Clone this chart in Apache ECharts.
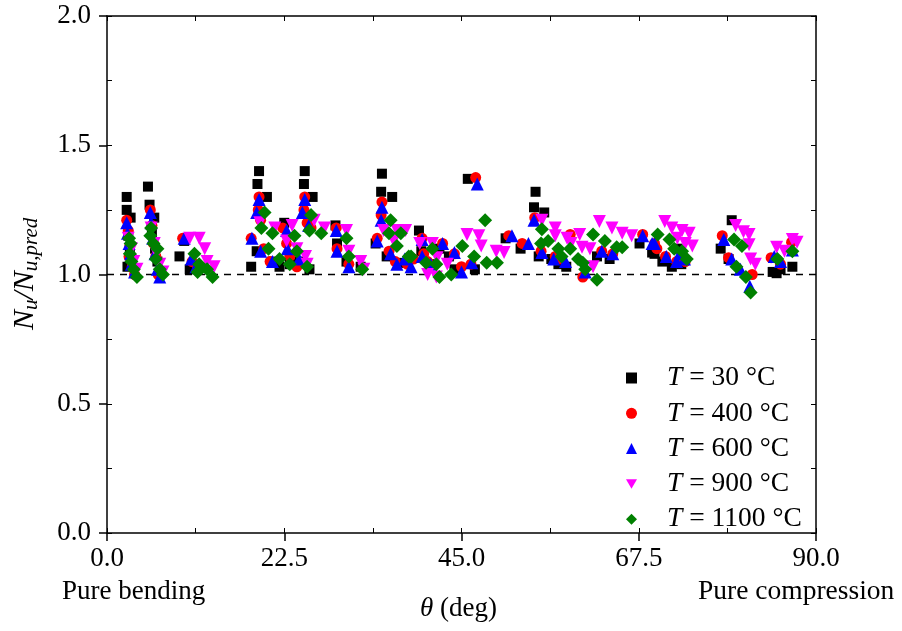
<!DOCTYPE html>
<html>
<head>
<meta charset="utf-8">
<script src="https://cdn.jsdelivr.net/npm/echarts@6/dist/echarts.min.js"></script>
<style>html,body{margin:0;padding:0;background:#fff}#c{width:902px;height:631px}</style>
</head>
<body>
<div id="c"></div>
<script>
// tick labels
const xTicks = [0, 22.5, 45, 67.5, 90];
const yTicks = [0, 0.5, 1.0, 1.5, 2.0];
const seriesNames = ['30', '400', '600', '900', '1100'];

// [theta (deg), Nu/Nu,pred]
const t30 = [
[2.5,1.30],[2.5,1.25],[3.0,1.22],[2.7,1.15],[2.9,1.10],[3.1,1.06],[2.6,1.03],[5.2,1.34],[5.4,1.27],[6.0,1.22],[5.7,1.16],[6.1,1.10],[6.4,1.05],
[9.2,1.07],[9.8,1.13],[10.5,1.02],
[18.3,1.03],[19.0,1.09],[19.3,1.40],[19.1,1.35],[20.3,1.30],[21.0,1.05],[21.9,1.03],[22.5,1.20],[23.2,1.04],[25.1,1.40],[25.0,1.35],[26.1,1.30],[24.4,1.05],[25.7,1.02],
[29.0,1.19],[29.2,1.12],[30.4,1.05],[32.2,1.03],
[34.9,1.39],[34.8,1.32],[36.2,1.30],[34.1,1.12],[35.5,1.07],
[39.6,1.17],[37.4,1.045],[39.9,1.09],[40.9,1.04],[43.4,1.07],[44.1,1.02],[45.8,1.37],[46.7,1.02],[42.2,1.10],
[50.6,1.14],[52.5,1.10],[54.4,1.32],[54.2,1.26],[55.5,1.24],[54.8,1.07],[56.4,1.06],[57.3,1.04],[58.3,1.03],[62.2,1.07],[63.8,1.06],[67.6,1.12],[69.5,1.08],
[69.2,1.085],[70.5,1.05],[71.7,1.03],[72.9,1.04],[72.4,1.10],
[79.3,1.21],[77.9,1.10],[78.9,1.06],
[84.5,1.01],[85.0,1.005],[87.0,1.03],[85.5,1.02]
];
const t400 = [
[2.5,1.21],[2.7,1.17],[2.9,1.11],[2.8,1.07],[3.2,1.03],[3.5,1.00],[5.5,1.25],[5.7,1.19],[5.9,1.12],[6.2,1.07],[6.5,1.00],
[9.6,1.14],[10.8,1.05],[11.5,1.03],
[18.3,1.14],[19.3,1.30],[19.2,1.25],[19.5,1.21],[19.9,1.10],[20.7,1.05],[22.3,1.18],[22.8,1.12],[23.2,1.07],[24.1,1.03],[25.1,1.30],[25.0,1.25],[25.4,1.20],[25.9,1.18],
[29.1,1.18],[29.2,1.10],[30.7,1.04],
[34.9,1.28],[34.8,1.23],[34.3,1.14],[35.8,1.09],[36.6,1.05],
[40.0,1.14],[40.2,1.08],[40.7,1.05],[42.6,1.12],[44.1,1.08],[45.0,1.03],[46.8,1.375],[46.2,1.04],[38.1,1.04],[38.9,1.06],
[51.0,1.15],[52.7,1.12],[54.3,1.22],[55.1,1.09],[56.9,1.07],[58.8,1.155],[60.4,0.99],[57.7,1.06],[62.8,1.09],[64.2,1.08],[68.0,1.155],[69.5,1.12],
[69.8,1.10],[70.9,1.07],[72.3,1.05],[73.4,1.05],
[78.1,1.15],[78.9,1.065],[81.9,1.00],
[84.3,1.065],[86.9,1.125],[85.5,1.04]
];
const t600 = [
[2.5,1.20],[2.6,1.16],[2.8,1.12],[3.0,1.08],[3.1,1.04],[3.5,1.01],[5.5,1.24],[5.6,1.20],[5.8,1.14],[6.1,1.08],[6.4,1.02],[6.7,0.99],
[9.8,1.14],[10.7,1.06],[11.3,1.03],
[18.4,1.14],[19.3,1.29],[19.0,1.24],[19.5,1.09],[21.0,1.05],[22.8,1.17],[22.9,1.10],[24.4,1.06],[25.1,1.29],[24.8,1.24],[25.6,1.19],
[29.1,1.17],[29.2,1.09],[30.7,1.03],
[34.9,1.26],[34.8,1.21],[34.3,1.13],[36.0,1.08],[36.8,1.04],
[40.0,1.135],[40.0,1.07],[41.1,1.04],[42.6,1.12],[44.1,1.085],[45.0,1.01],[46.3,1.045],[47.0,1.35],[38.6,1.03],[37.8,1.06],
[51.4,1.15],[53.5,1.12],[54.2,1.21],[55.2,1.085],[56.7,1.06],[58.2,1.05],[60.7,1.01],[62.8,1.09],[64.2,1.08],[68.0,1.15],[69.5,1.12],
[69.2,1.12],[71.0,1.07],[72.3,1.05],[73.3,1.06],[72.7,1.08],
[78.3,1.135],[79.3,1.06],[81.6,0.955],[80.4,1.02],
[84.7,1.07],[87.0,1.095],[85.5,1.05]
];
const t900 = [
[2.7,1.14],[3.1,1.10],[3.4,1.05],[3.8,1.02],[5.6,1.18],[6.0,1.12],[6.3,1.08],[6.7,1.04],[7.1,1.01],
[10.5,1.14],[11.7,1.14],[12.4,1.10],[12.7,1.05],[13.6,1.03],
[19.4,1.20],[21.3,1.18],[23.5,1.19],[22.8,1.13],[25.2,1.07],[25.4,1.04],[26.3,1.21],[27.6,1.18],[24.1,1.10],
[30.4,1.17],[30.7,1.09],[32.2,1.05],[32.6,1.02],
[35.1,1.17],[36.8,1.17],[37.9,1.17],[36.4,1.13],
[39.7,1.12],[41.3,1.12],[41.9,1.065],[43.2,1.04],[41.8,0.99],[40.7,1.00],[45.7,1.155],[47.2,1.15],[47.5,1.11],[49.4,1.09],[50.4,1.085],
[55.2,1.21],[56.9,1.18],[56.9,1.15],[60.0,1.155],[60.3,1.105],[61.3,1.10],[61.7,1.03],[62.5,1.205],[64.1,1.18],[65.4,1.16],[66.6,1.15],[58.9,1.12],[58.4,1.14],
[70.8,1.205],[71.7,1.18],[73.0,1.17],[73.9,1.16],[74.3,1.11],[72.4,1.14],[73.4,1.12],
[79.8,1.19],[80.8,1.165],[81.5,1.155],[81.5,1.115],[81.7,1.06],[82.3,1.04],
[85.0,1.105],[87.0,1.135],[87.6,1.125],[86.0,1.09]
];
const t1100 = [
[2.8,1.14],[3.0,1.12],[2.9,1.08],[3.1,1.05],[3.4,1.02],[3.8,0.99],[5.6,1.18],[5.5,1.15],[5.9,1.12],[6.4,1.10],[6.2,1.06],[6.7,1.02],[7.1,1.00],
[11.1,1.08],[11.7,1.04],[11.5,1.01],[12.7,1.02],[13.4,0.99],
[20.0,1.24],[19.6,1.18],[21.0,1.16],[20.5,1.10],[21.9,1.06],[23.2,1.04],[23.8,1.15],[24.1,1.09],[25.4,1.03],[25.9,1.23],[25.7,1.17],[27.2,1.16],
[30.4,1.14],[30.7,1.07],[32.4,1.02],
[36.0,1.21],[35.8,1.16],[37.3,1.16],[36.8,1.11],[38.3,1.07],
[38.6,1.07],[40.5,1.045],[41.3,1.10],[41.8,1.04],[42.2,0.99],[43.7,1.00],[45.1,1.11],[46.6,1.07],[48.2,1.045],[49.5,1.045],[48.0,1.21],
[55.2,1.175],[55.1,1.12],[56.0,1.13],[57.3,1.10],[57.7,1.07],[58.8,1.10],[59.8,1.06],[60.4,1.045],[60.7,1.02],[62.2,0.98],[61.7,1.155],[63.2,1.13],[64.7,1.105],[65.4,1.105],
[69.9,1.155],[71.4,1.135],[72.0,1.10],[73.0,1.09],[73.6,1.06],
[79.6,1.135],[80.6,1.11],[79.9,1.03],[81.1,0.99],[81.7,0.93],
[85.1,1.06],[87.0,1.09]
];
const refLine = [[0, 1], [90, 1]];

const FONT = 'Liberation Serif';
const chart = echarts.init(document.getElementById('c'), null, {renderer: 'canvas'});

const blankAxis = (extra) => Object.assign({
  type: 'value', axisLabel: {show: false}, splitLine: {show: false},
  axisLine: {show: false, onZero: false}
}, extra);

const mk = (name, data, symbol, size, color, rot) => ({
  name: 'T = ' + name + ' °C', type: 'scatter', data: data,
  symbol: symbol, symbolSize: size, symbolRotate: rot || 0,
  itemStyle: {color: color, opacity: 1}, z: 5
});

const legendIcons = ['rect', 'circle', 'triangle', 'path://M0,0L20,0L10,17.3Z', 'diamond'];

chart.setOption({
  animation: false,
  backgroundColor: '#fff',
  grid: {left: 107, right: 86, top: 16, bottom: 98},
  xAxis: [
    {type: 'value', min: xTicks[0], max: xTicks[xTicks.length-1], interval: 22.5, position: 'bottom',
     axisLine: {show: true, onZero: false, lineStyle: {color: '#000', width: 1.5}},
     axisTick: {show: true, inside: false, length: 8, lineStyle: {color: '#000', width: 1.5}},
     axisLabel: {show: true, margin: 12, color: '#000', fontFamily: FONT, fontSize: 27,
                 formatter: v => xTicks.indexOf(v) >= 0 ? v.toFixed(1) : ''},
     splitLine: {show: false}},
    blankAxis({min: 0, max: 90, interval: 11.25, position: 'bottom',
     axisTick: {show: true, inside: true, length: 5, lineStyle: {color: '#000', width: 1}}}),
    blankAxis({min: 0, max: 90, interval: 11.25, position: 'top',
     axisLine: {show: true, onZero: false, lineStyle: {color: '#000', width: 1.5}},
     axisTick: {show: true, inside: true, length: 5, lineStyle: {color: '#000', width: 1}}})
  ],
  yAxis: [
    {type: 'value', min: yTicks[0], max: yTicks[yTicks.length-1], interval: 0.5, position: 'left',
     axisLine: {show: true, onZero: false, lineStyle: {color: '#000', width: 1.5}},
     axisTick: {show: true, inside: false, length: 8, lineStyle: {color: '#000', width: 1.5}},
     axisLabel: {show: true, margin: 16, color: '#000', fontFamily: FONT, fontSize: 27,
                 formatter: v => v.toFixed(1)},
     splitLine: {show: false}},
    blankAxis({min: 0, max: 2, interval: 0.25, position: 'left',
     axisTick: {show: true, inside: true, length: 5, lineStyle: {color: '#000', width: 1}}}),
    blankAxis({min: 0, max: 2, interval: 0.25, position: 'right',
     axisLine: {show: true, onZero: false, lineStyle: {color: '#000', width: 1.5}},
     axisTick: {show: true, inside: true, length: 5, lineStyle: {color: '#000', width: 1}}})
  ],
  legend: {
    orient: 'vertical', left: 626, top: 364, padding: 0, itemWidth: 11, itemHeight: 11, itemGap: 7.3,
    data: seriesNames.map((n, i) => ({name: 'T = ' + n + ' °C', icon: legendIcons[i]})),
    formatter: name => '{i|T}{n|' + name.slice(1) + '}',
    textStyle: {
      color: '#000', fontFamily: FONT, fontSize: 27.5,
      rich: {
        i: {fontFamily: FONT, fontSize: 27.5, fontStyle: 'italic', color: '#000', lineHeight: 27, padding: [0, 0, 0, 25]},
        n: {fontFamily: FONT, fontSize: 27.5, color: '#000', lineHeight: 27}
      }
    }
  },
  graphic: [
    {type: 'text', left: 62, top: 578, style: {text: 'Pure bending', fill: '#000', font: '27px "Liberation Serif"'}},
    {type: 'text', left: 698, top: 578, style: {text: 'Pure compression', fill: '#000', font: '27.5px "Liberation Serif"'}},
    {type: 'text', left: 420, top: 595, style: {
      text: '{i|θ} (deg)', fill: '#000', font: '27px "Liberation Serif"',
      rich: {i: {fontStyle: 'italic', fontFamily: FONT, fontSize: 27, fill: '#000'}}
    }},
    {type: 'text', x: 8, y: 330, rotation: Math.PI / 2, style: {
      text: '{m|N}{s|u}{m|/N}{s|u,pred}', fill: '#000',
      rich: {
        m: {fontStyle: 'italic', fontFamily: FONT, fontSize: 30, fill: '#000', lineHeight: 34},
        s: {fontStyle: 'italic', fontFamily: FONT, fontSize: 21, fill: '#000', lineHeight: 14, verticalAlign: 'bottom'}
      }
    }}
  ],
  series: [
    {type: 'line', data: refLine, symbol: 'none', silent: true, z: 1,
     lineStyle: {color: '#000', width: 1.5, type: [7, 6]}},
    mk('30', t30, 'rect', 10, '#000000'),
    mk('400', t400, 'circle', 11, '#ff0000'),
    mk('600', t600, 'triangle', 13, '#0000ff'),
    mk('900', t900, 'triangle', 13, '#ff00ff', 180),
    mk('1100', t1100, 'diamond', 14, '#008000')
  ]
});
</script>
</body>
</html>
